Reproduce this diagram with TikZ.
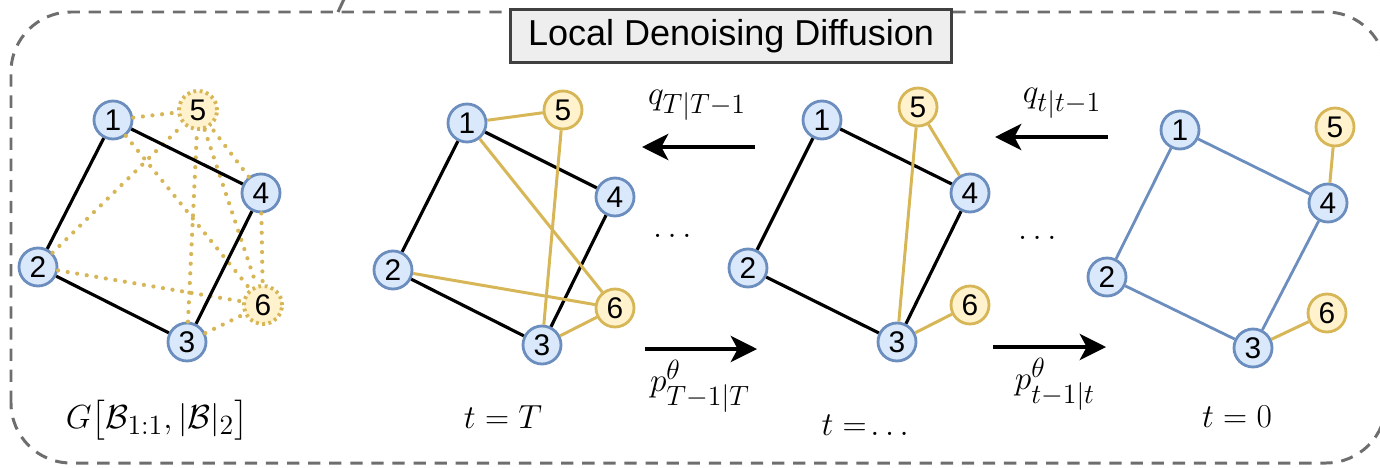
\documentclass[tikz,border=0pt]{standalone}
\usepackage{fontspec}
\setsansfont{Liberation Sans}
\usepackage{amsmath}
\usetikzlibrary{arrows.meta, positioning}
\DeclareMathSizes{17.28}{17.28}{14.4}{10}
\definecolor{NodeBlue}{HTML}{DAE8FC}
\definecolor{EdgeBlue}{HTML}{6C8EBF}
\definecolor{NodeYellow}{HTML}{FFF2CC}
\definecolor{EdgeYellow}{HTML}{D6B656}
\definecolor{FrameGray}{HTML}{6E6E6E}
\definecolor{TitleGray}{HTML}{EEEEEE}

\begin{document}
\begin{tikzpicture}[>=Stealth,
        bnode/.style={circle, draw=EdgeBlue, fill=NodeBlue, line width=1.6pt, inner sep=0pt, minimum size=0.76cm, font=\sffamily\fontsize{17}{17}\selectfont},
        ynode/.style={bnode, draw=EdgeYellow, fill=NodeYellow},
        ghost/.style={ynode, dotted, line width=2.2pt},
        edge/.style={line width=1.8pt, black},
        bedge/.style={line width=1.6pt, EdgeBlue},
        yedge/.style={line width=1.7pt, EdgeYellow},
        dedge/.style={line width=2.4pt, EdgeYellow, dash pattern=on 0pt off 5.5pt, line cap=round},
        arrow/.style={->, line width=1.9pt, >={Stealth[length=15pt, width=15pt, inset=4pt]}},
        lbl/.style={font=\fontsize{17.28}{17.28}\selectfont, scale=1.1, transform shape}]
        \useasboundingbox (0,0) rectangle (27.6,9.34);

        % frame
        \draw[FrameGray, line width=1.7pt, dash pattern=on 7pt off 5pt, rounded corners=1.2cm]
            (0.22,0.08) rectangle (27.72,9.10);
        \draw[FrameGray, line width=1.7pt] (6.76,9.10) -- (6.90,9.40);
        \node[draw=black!75, fill=TitleGray, line width=1.5pt, minimum width=8.82cm, minimum height=1.06cm,
            font=\sffamily\fontsize{20.5}{20.5}\selectfont] (title) at (14.62,8.62) {Local Denoising Diffusion};

        % G[B, |B|]
        \node[bnode] (a1) at (2.26,6.94) {1};
        \node[bnode] (a2) at (0.76,4.00) {2};
        \node[bnode] (a3) at (3.74,2.50) {3};
        \node[bnode] (a4) at (5.22,5.48) {4};
        \node[ghost] (a5) at (3.96,7.14) {5};
        \node[ghost] (a6) at (5.26,3.24) {6};
        \draw[dedge] (a1) -- (a5);
        \draw[dedge] (a2) -- (a5);
        \draw[dedge] (a3) -- (a5);
        \draw[dedge] (a4) -- (a5);
        \draw[dedge] (a1) -- (a6);
        \draw[dedge] (a2) -- (a6);
        \draw[dedge] (a3) -- (a6);
        \draw[dedge] (a4) -- (a6);
        \draw[dedge] (a5) -- (a6);
        \draw[edge] (a1) -- (a2) -- (a3) -- (a4) -- (a1);
        \node[lbl] (ga) at (3.14,0.94) {$G\big[\mathcal{B}_{1:1},|\mathcal{B}|_2\big]$};

        % t = T
        \node[bnode] (b1) at (9.34,6.88) {1};
        \node[bnode] (b2) at (7.86,3.94) {2};
        \node[bnode] (b3) at (10.84,2.44) {3};
        \node[bnode] (b4) at (12.30,5.40) {4};
        \node[ynode] (b5) at (11.26,7.14) {5};
        \node[ynode] (b6) at (12.30,3.18) {6};
        \draw[edge] (b1) -- (b2) -- (b3) -- (b4) -- (b1);
        \draw[yedge] (b1) -- (b5);
        \draw[yedge] (b5) -- (b3);
        \draw[yedge] (b1) -- (b6);
        \draw[yedge] (b2) -- (b6);
        \draw[yedge] (b3) -- (b6);
        \node[lbl] (gb) at (10.06,1.00) {$t=T$};

        % t = ...
        \node[bnode] (c1) at (16.44,6.94) {1};
        \node[bnode] (c2) at (14.96,3.98) {2};
        \node[bnode] (c3) at (17.94,2.50) {3};
        \node[bnode] (c4) at (19.40,5.48) {4};
        \node[ynode] (c5) at (18.36,7.20) {5};
        \node[ynode] (c6) at (19.40,3.24) {6};
        \draw[edge] (c1) -- (c2) -- (c3) -- (c4) -- (c1);
        \draw[yedge] (c5) -- (c3);
        \draw[yedge] (c5) -- (c4);
        \draw[yedge] (c3) -- (c6);
        \node[lbl] (gc) at (17.36,0.84) {$t=\!\dots$};

        % t = 0
        \node[bnode] (d1) at (23.60,6.74) {1};
        \node[bnode] (d2) at (22.14,3.80) {2};
        \node[bnode] (d3) at (25.06,2.38) {3};
        \node[bnode] (d4) at (26.56,5.28) {4};
        \node[ynode] (d5) at (26.70,6.80) {5};
        \node[ynode] (d6) at (26.54,3.08) {6};
        \draw[bedge] (d1) -- (d2) -- (d3) -- (d4) -- (d1);
        \draw[yedge] (d4) -- (d5);
        \draw[yedge] (d3) -- (d6);
        \node[lbl] (gd) at (24.74,1.00) {$t=0$};

        % forward / reverse steps
        \coordinate (qa1) at (15.10,6.40);
        \coordinate (qa2) at (12.84,6.40);
        \coordinate (pa1) at (12.90,2.36);
        \coordinate (pa2) at (15.14,2.36);
        \coordinate (qb1) at (22.16,6.60);
        \coordinate (qb2) at (19.90,6.60);
        \coordinate (pb1) at (19.86,2.40);
        \coordinate (pb2) at (22.12,2.40);
        \draw[arrow] (qa1) -- (qa2);
        \draw[arrow] (pa1) -- (pa2);
        \draw[arrow] (qb1) -- (qb2);
        \draw[arrow] (pb1) -- (pb2);
        \node[lbl] (qla) at (13.94,7.24) {$q_{T|T-1}$};
        \node[lbl] (pla) at (14.00,1.62) {$p^{\theta}_{T-1|T}$};
        \node[lbl] (qlb) at (21.24,7.28) {$q_{t|t-1}$};
        \node[lbl] (plb) at (21.10,1.66) {$p^{\theta}_{t-1|t}$};
        \node[lbl] (dota) at (13.50,4.62) {$\dots$};
        \node[lbl] (dotb) at (20.80,4.58) {$\dots$};
\end{tikzpicture}
\end{document}
